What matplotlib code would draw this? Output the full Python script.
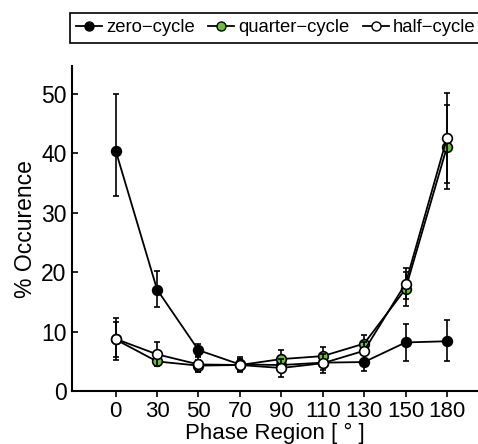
import matplotlib.pyplot as plt
from matplotlib.lines import Line2D
import numpy as np

plt.rcParams['font.family'] = ['Liberation Sans', 'DejaVu Sans']

regions = ["0", "30", "50", "70", "90", "110", "130", "150", "180"]

zero_vals = [40.5, 17.1, 6.9, 4.5, 4.4, 4.8, 4.9, 8.2, 8.4]
zero_lo = [7.7, 3.0, 1.0, 1.3, 1.2, 1.2, 1.5, 3.2, 3.4]
zero_hi = [9.5, 3.2, 1.0, 1.3, 1.2, 1.2, 1.5, 3.1, 3.5]

quarter_vals = [8.7, 5.0, 4.3, 4.4, 5.4, 5.9, 8.0, 17.2, 41.1]
quarter_err = [3.0, 0.8, 1.0, 1.0, 1.6, 1.6, 1.5, 2.8, 7.0]

half_vals = [8.8, 6.2, 4.5, 4.4, 3.9, 4.7, 6.8, 18.1, 42.6]
half_err = [3.5, 2.0, 1.3, 1.0, 1.5, 1.6, 1.5, 2.6, 7.5]

labels = ["zero\u2212cycle", "quarter\u2212cycle", "half\u2212cycle"]
faces = ["black", "#6cbf3a", "white"]

x = np.arange(len(regions))

fig = plt.figure(figsize=(4.78, 4.44), dpi=100)
ax = fig.add_axes([0.151, 0.119, 0.849, 0.732])

style = dict(color="black", lw=1.3, marker="o", markersize=7, capsize=2.5,
             elinewidth=1.2, capthick=1.2, markeredgecolor="black",
             markeredgewidth=1.2)

ax.errorbar(x, zero_vals, yerr=[zero_lo, zero_hi], markerfacecolor=faces[0],
            zorder=3, **style)
ax.errorbar(x, quarter_vals, yerr=quarter_err, markerfacecolor=faces[1],
            zorder=4, **style)
ax.errorbar(x, half_vals, yerr=half_err, markerfacecolor=faces[2],
            zorder=5, **style)

ax.set_xlim(-1.05, 8.75)
ax.set_ylim(0, 54.7)
ax.set_xticks(x)
ax.set_xticklabels(regions)
ax.set_yticks([0, 10, 20, 30, 40, 50])
ax.tick_params(axis="y", direction="in", length=4, labelsize=16.5, width=1.2, pad=4)
ax.tick_params(axis="x", direction="out", length=4, labelsize=16, width=1.2, pad=3)
for s in ["top", "right"]:
    ax.spines[s].set_visible(False)
for s in ["left", "bottom"]:
    ax.spines[s].set_linewidth(1.5)

ax.set_xlabel("Phase Region [ \u00b0 ]", fontsize=16, labelpad=1)
ax.set_ylabel("% Occurence", fontsize=16.5, labelpad=3)

handles = [Line2D([], [], color="black", lw=1.3, marker="o", markersize=6.5,
                  markerfacecolor=f, markeredgecolor="black") for f in faces]
leg = fig.legend(handles, labels, loc="upper left", ncol=3,
                 bbox_to_anchor=(0.146, 0.971), borderaxespad=0,
                 fontsize=13.3, handlelength=1.4, handletextpad=0.2,
                 columnspacing=0.75, borderpad=0.35, fancybox=False,
                 edgecolor="black", framealpha=1)
leg.get_frame().set_linewidth(1.2)

plt.savefig("out.png", dpi=100)
plt.close()
